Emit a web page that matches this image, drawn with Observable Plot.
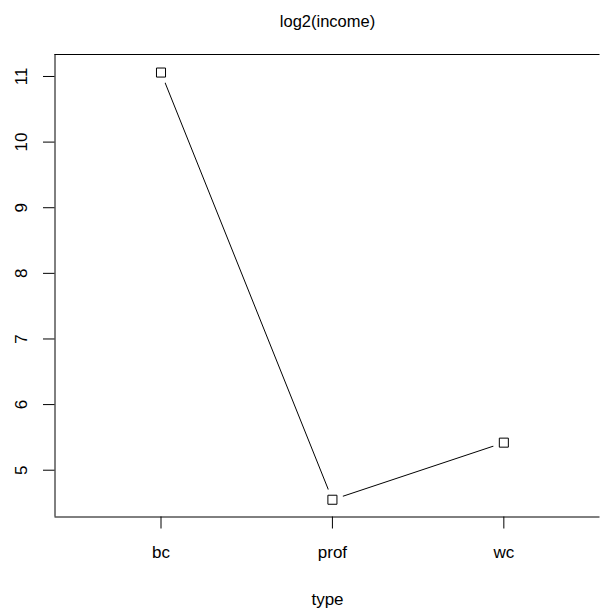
<!DOCTYPE html>
<html>
<head>
<meta charset="utf-8">
<script src="https://cdn.jsdelivr.net/npm/d3@7"></script>
<script src="https://cdn.jsdelivr.net/npm/@observablehq/plot@0.6"></script>
<style>
  html, body { margin: 0; padding: 0; background: white; }
</style>
</head>
<body>
<div id="chart"></div>
<script>
const types = ["bc", "prof", "wc"];
const values = [11.06, 4.55, 5.42];
const yTicks = [5, 6, 7, 8, 9, 10, 11];
const titleText = "log2(income)";
const xLabelText = "type";

const data = types.map((t, i) => ({ pos: i + 1, type: t, value: values[i] }));
const xDomain = [0.3816, 3.561];
const yDomain = [4.287, 11.335];

const chart = Plot.plot({
  width: 601,
  height: 609,
  marginTop: 54,
  marginLeft: 54.5,
  marginRight: 1.5,
  marginBottom: 92.5,
  style: { fontFamily: "'Liberation Sans', Arial, sans-serif", background: "white", color: "black" },
  x: { type: "linear", domain: xDomain, axis: null },
  y: { domain: yDomain, axis: null },
  marks: [
    // box (left, top, bottom)
    Plot.ruleX([xDomain[0]], { stroke: "black", strokeWidth: 1 }),
    Plot.ruleY([yDomain[0], yDomain[1]], { stroke: "black", strokeWidth: 1 }),
    // y axis ticks
    Plot.axisY(yTicks, { tickSize: 11.5, tickFormat: () => "", label: null, stroke: "black" }),
    Plot.text(yTicks, { y: d => d, text: d => String(d), frameAnchor: "left", dx: -33.5, rotate: -90, textAnchor: "middle", lineAnchor: "middle", fontSize: 17, fill: "black" }),
    // x axis ticks
    Plot.axisX([1, 2, 3], { tickSize: 12, tickFormat: () => "", label: null, stroke: "black" }),
    Plot.text([1, 2, 3], { x: d => d, text: d => types[d - 1], frameAnchor: "bottom", dy: 35.2, lineAnchor: "middle", fontSize: 17, fill: "black" }),
    // line with gaps (type = "b")
    Plot.line(data, { x: "pos", y: "value", stroke: "black", strokeWidth: 1 }),
    Plot.dot(data, { x: "pos", y: "value", r: 11, fill: "white", stroke: "none" }),
    Plot.dot(data, { x: "pos", y: "value", symbol: "square", r: 5.1, fill: "none", stroke: "black", strokeWidth: 1 }),
    // title and x label
    Plot.text([titleText], { text: d => d, frameAnchor: "top", dy: -33, lineAnchor: "middle", fontSize: 16.5, fill: "black" }),
    Plot.text([xLabelText], { text: d => d, frameAnchor: "bottom", dy: 82.5, lineAnchor: "middle", fontSize: 17, fill: "black" })
  ]
});
document.getElementById("chart").appendChild(chart);
</script>
</body>
</html>
